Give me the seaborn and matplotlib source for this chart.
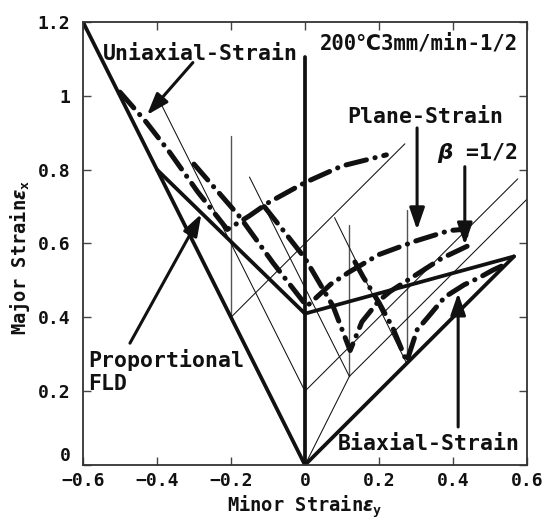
import matplotlib
matplotlib.use("Agg")
import matplotlib.pyplot as plt
import pandas as pd
import seaborn as sns

# ---- forming limit frame (minor strain, major strain) ----
bound_x = [-0.6, 0.0, 0.565]          # uniaxial / biaxial limit lines
bound_y = [1.2, 0.0, 0.565]
plane_x = [0.0, 0.0]                  # plane-strain axis
plane_y = [0.0, 1.105]
prop_x = [-0.4, 0.0, 0.565]           # proportional FLD
prop_y = [0.8, 0.41, 0.565]

# ---- thin strain paths (pre-strain and second stage) ----
path_x0 = [0.0, -0.2, 0.12, 0.0, 0.12, 0.275, 0.0]
path_y0 = [0.2, 0.4, 0.24, 0.2, 0.24, 0.275, 0.0]
path_x1 = [-0.4, 0.27, -0.15, 0.575, 0.6, 0.08, 0.12]
path_y1 = [1.0, 0.87, 0.78, 0.775, 0.72, 0.67, 0.24]
vpath_x = [-0.2, 0.12, 0.275]         # plane-strain second stage
vpath_y0 = [0.4, 0.24, 0.275]
vpath_y1 = [0.89, 0.65, 0.69]

# ---- two-stage forming limits (dash-dot) ----
uni_x = [-0.5, -0.43, -0.365, -0.29, -0.21, -0.15, -0.1, 0.0, 0.1, 0.22]
uni_y = [1.01, 0.93, 0.846, 0.74, 0.638, 0.675, 0.71, 0.765, 0.81, 0.84]
pln_x = [-0.30, -0.176, -0.086, 0.005, 0.07, 0.12, 0.2, 0.3, 0.39, 0.425, 0.435]
pln_y = [0.815, 0.672, 0.547, 0.43, 0.49, 0.523, 0.57, 0.607, 0.635, 0.638, 0.622]
half_x = [-0.11, -0.06, 0.0, 0.076, 0.122, 0.154, 0.2, 0.23, 0.3, 0.37, 0.454]
half_y = [0.70, 0.637, 0.56, 0.43, 0.31, 0.388, 0.445, 0.47, 0.515, 0.56, 0.60]
biax_x = [0.135, 0.157, 0.2, 0.238, 0.275, 0.303, 0.332, 0.378, 0.43, 0.47, 0.508, 0.545]
biax_y = [0.55, 0.51, 0.44, 0.37, 0.28, 0.366, 0.40, 0.455, 0.488, 0.507, 0.528, 0.545]

x_ticks = [-0.6, -0.4, -0.2, 0.0, 0.2, 0.4, 0.6]
x_labels = ["\u22120.6", "\u22120.4", "\u22120.2", "0", "0.2", "0.4", "0.6"]
y_ticks = [0.0, 0.2, 0.4, 0.6, 0.8, 1.0, 1.2]
y_labels = ["0", "0.2", "0.4", "0.6", "0.8", "1", "1.2"]


def segments(*pairs):
    rows = []
    for k, (xs, ys) in enumerate(pairs):
        for xv, yv in zip(xs, ys):
            rows.append({"seg": k, "x": xv, "y": yv})
    return pd.DataFrame(rows)


sns.set_theme(style="ticks")
plt.rcParams["font.family"] = ["DejaVu Sans Mono", "DejaVu Sans"]
plt.rcParams["font.weight"] = "bold"
plt.rcParams["mathtext.fontset"] = "dejavusans"

fig = plt.figure(figsize=(5.55, 5.22), dpi=100)
ax = fig.add_axes([0.1495, 0.1092, 0.80, 0.8487])

thick = segments((bound_x, bound_y), (plane_x, plane_y), (prop_x, prop_y))
slant = segments(*[([a, b], [c, d]) for a, b, c, d in zip(path_x0, path_x1, path_y0, path_y1)])
vert = segments(*[([a, a], [c, d]) for a, c, d in zip(vpath_x, vpath_y0, vpath_y1)])
limits = segments((uni_x, uni_y), (pln_x, pln_y), (half_x, half_y), (biax_x, biax_y))

common = dict(x="x", y="y", units="seg", estimator=None, sort=False, ax=ax)
sns.lineplot(data=vert, color="#555555", lw=1.0, **common)
sns.lineplot(data=slant, color="#111111", lw=0.75, **common)
sns.lineplot(data=thick, color="#111111", lw=2.7, solid_capstyle="round", **common)
sns.lineplot(data=limits, color="#111111", lw=3.6,
             linestyle=(0, (4.2, 1.75, 0.05, 1.75)), dash_capstyle="round", **common)

# arrows from the labels to their curves
arrow = dict(arrowstyle="-|>,head_length=1.1,head_width=0.38", lw=2.2,
             color="#111111", shrinkA=0, shrinkB=0)
for tail, tip in [((-0.303, 1.09), (-0.427, 0.948)),
                  ((0.303, 0.913), (0.303, 0.637)),
                  ((0.432, 0.808), (0.432, 0.596)),
                  ((0.414, 0.103), (0.414, 0.466)),
                  ((-0.473, 0.33), (-0.28, 0.68))]:
    ax.annotate("", xy=tip, xytext=tail, arrowprops=arrow)

tkw = dict(fontweight="bold", ha="left", va="center", color="#111111")
ax.text(-0.546, 1.112, "Uniaxial-Strain", fontsize=15.5, **tkw)
ax.text(0.04, 1.141, "200\u21033mm/min-1/2", fontsize=14.8, **tkw)
ax.text(0.114, 0.943, "Plane-Strain", fontsize=15.5, **tkw)
ax.text(0.357, 0.845, r"$\beta$ =1/2", fontsize=15.5, **tkw)
ax.text(0.089, 0.057, "Biaxial-Strain", fontsize=15.5, **tkw)
ax.text(-0.586, 0.253, "Proportional\nFLD", linespacing=1.2, fontsize=15.5, **tkw)

ax.set_xlim(-0.6, 0.6)
ax.set_ylim(0.0, 1.2)
ax.set_xticks(x_ticks)
ax.set_xticklabels(x_labels)
ax.set_yticks(y_ticks)
ax.set_yticklabels(y_labels)
ax.tick_params(direction="in", length=6, width=1.0, color="#444444",
               top=True, right=True, labelsize=13, labelcolor="#111111")
ax.tick_params(axis="x", pad=5)
ax.tick_params(axis="y", pad=9)
# keep the origin label of the y axis clear of the x tick labels
ax.get_yticklabels()[0].set_verticalalignment("bottom")
for s in ax.spines.values():
    s.set_linewidth(1.3)
    s.set_color("#333333")

ax.set_xlabel(r"Minor Strain$\varepsilon_{\mathregular{y}}$", fontsize=13.5,
              fontweight="bold", color="#111111")
ax.set_ylabel(r"Major Strain$\varepsilon_{\mathregular{x}}$", fontsize=13.5,
              fontweight="bold", color="#111111")
ax.xaxis.set_label_coords(0.5, -0.064)
ax.yaxis.set_label_coords(-0.115, 0.47)

fig.savefig("out.png", dpi=100)
